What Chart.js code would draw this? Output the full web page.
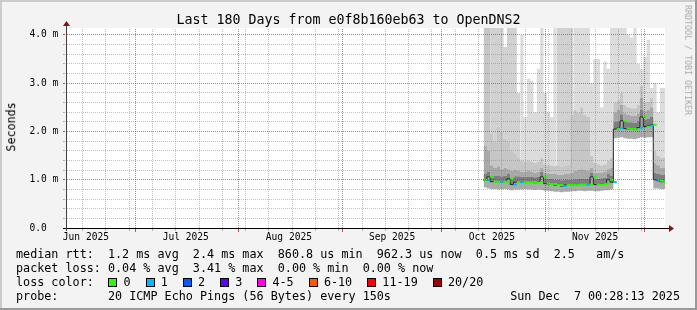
<!DOCTYPE html>
<html>
<head>
<meta charset="utf-8">
<script src="https://cdn.jsdelivr.net/npm/chart.js@4.4.1/dist/chart.umd.min.js"></script>
<style>
html,body{margin:0;padding:0;background:#f3f3f3;overflow:hidden}
#wrap{position:relative;width:697px;height:310px;background:#f3f3f3;font-family:"DejaVu Sans Mono",monospace;color:#000}
#c{position:absolute;left:0;top:0}
.t{position:absolute;white-space:pre;line-height:1}
.box{position:absolute;width:7px;height:7px;border:1px solid #000}
.fr{position:absolute}
</style>
</head>
<body>
<div id="wrap">
<canvas id="c" width="697" height="310"></canvas>
</div>
<script>
// ---------- data ----------
const startTime = '2025-06-10T00:28:13';
const endTime   = '2025-12-07T00:28:13';

const sampleDates = [
 '2025-10-13','2025-10-14','2025-10-15','2025-10-16','2025-10-17','2025-10-18','2025-10-19','2025-10-20','2025-10-21','2025-10-22',
 '2025-10-23','2025-10-24','2025-10-25','2025-10-26','2025-10-27','2025-10-28','2025-10-29','2025-10-30','2025-10-31','2025-11-01',
 '2025-11-02','2025-11-03','2025-11-04','2025-11-05','2025-11-06','2025-11-07','2025-11-08','2025-11-09','2025-11-10','2025-11-11',
 '2025-11-12','2025-11-13','2025-11-14','2025-11-15','2025-11-16','2025-11-17','2025-11-18','2025-11-19','2025-11-20','2025-11-21',
 '2025-11-22','2025-11-23','2025-11-24','2025-11-25','2025-11-26','2025-11-27','2025-11-28','2025-11-29','2025-11-30','2025-12-01',
 '2025-12-02','2025-12-03','2025-12-04','2025-12-05','2025-12-06'];

// median RTT (ms)
const median = [1.00,0.99,1.06,0.96,0.96,0.96,0.96,0.96,1.02,0.90, 0.95,0.95,0.95,0.95,0.95,0.95,0.94,0.95,1.06,0.92,
 0.91,0.91,0.89,0.89,0.87,0.89,0.89,0.89,0.89,0.90, 0.90,0.90,0.90,1.06,0.90,0.90,0.91,0.92,1.00,0.95,
 2.05,2.07,2.22,2.06,2.05,2.05,2.04,2.08,2.30,2.10, 2.12,2.14,1.00,0.98,0.96];

// lost pings out of 20
const lossCount = [0,1,0,0,0,1,0,0,0,1, 0,1,0,0,0,0,0,0,0,0, 0,0,0,0,1,0,0,0,0,0,
 0,1,0,0,0,0,0,0,0,1, 0,1,0,0,0,0,0,1,0,0, 1,0,1,0,0];

// smoke boundaries (ms)
const smokeLow = [0.84,0.84,0.82,0.81,0.81,0.80,0.80,0.81,0.80,0.78, 0.80,0.80,0.80,0.81,0.80,0.80,0.79,0.80,0.79,0.77,
 0.77,0.76,0.75,0.75,0.74,0.75,0.75,0.76,0.76,0.77, 0.77,0.76,0.77,0.77,0.76,0.76,0.77,0.78,0.78,0.80,
 1.86,1.87,1.88,1.86,1.85,1.85,1.84,1.86,1.88,1.87, 1.88,1.88,0.82,0.82,0.81];
const smokeDarkTop = [1.14,1.12,1.16,1.08,1.08,1.08,1.07,1.08,1.12,1.04, 1.07,1.07,1.06,1.06,1.06,1.06,1.05,1.06,1.16,1.03,
 1.02,1.02,1.00,1.00,0.99,1.00,1.00,1.01,1.01,1.02, 1.02,1.02,1.02,1.15,1.02,1.02,1.03,1.04,1.12,1.08,
 2.20,2.22,2.36,2.20,2.19,2.19,2.18,2.22,2.45,2.25, 2.27,2.30,1.14,1.12,1.10];
const smokeMidTop = [2.80,1.70,1.60,1.30,1.25,1.28,1.22,1.25,1.22,1.18, 1.20,1.18,1.17,1.16,1.18,1.17,1.15,1.16,1.25,1.14,
 1.13,1.12,1.12,1.11,1.10,1.12,1.12,1.15,1.18,1.20, 1.22,1.20,1.18,1.25,1.15,1.14,1.15,1.17,1.22,1.25,
 2.40,2.45,2.55,2.38,2.35,2.33,2.32,2.38,2.70,2.42, 2.45,2.50,1.35,1.30,1.25];
const smokeHighTop = [4.15,4.15,4.15,1.95,1.80,2.10,2.00,1.85,1.80,1.60, 1.55,1.45,1.40,1.38,1.40,1.38,1.35,1.38,1.45,1.32,
 1.30,1.30,1.28,1.30,1.28,1.30,1.32,2.35,2.45,2.40, 2.50,2.35,2.30,1.50,1.35,1.32,1.30,1.32,1.40,1.45,
 2.60,2.65,2.80,2.55,2.50,2.48,2.48,2.55,2.95,2.60, 2.62,2.70,1.60,1.50,1.45];
const smokeMax = [4.15,4.15,4.15,4.15,4.15,4.15,4.15,3.75,4.15,4.15, 4.15,2.80,4.00,2.30,3.10,3.05,2.40,3.30,4.15,2.80,
 2.40,2.30,4.15,4.15,4.15,4.15,4.15,4.15,4.15,4.15, 4.15,4.15,4.15,3.00,3.50,3.50,2.50,3.45,3.30,4.15,
 4.15,4.15,4.15,4.15,4.00,3.95,4.15,3.40,3.30,3.55, 3.90,2.90,3.00,2.40,2.90];

// axes
const weekLines = ['2025-06-15','2025-06-22','2025-06-29','2025-07-06','2025-07-13','2025-07-20','2025-07-27',
 '2025-08-03','2025-08-10','2025-08-17','2025-08-24','2025-08-31','2025-09-07','2025-09-14','2025-09-21','2025-09-28',
 '2025-10-05','2025-10-12','2025-10-19','2025-10-26','2025-11-02','2025-11-09','2025-11-16','2025-11-23','2025-11-30'];
const monthLines = ['2025-07-01','2025-08-01','2025-09-01','2025-10-01','2025-11-01','2025-12-01'];
const monthLabelDates = ['2025-06-16','2025-07-16','2025-08-16','2025-09-16','2025-10-16','2025-11-16'];
const monthLabels = ['Jun 2025','Jul 2025','Aug 2025','Sep 2025','Oct 2025','Nov 2025'];
const yTickValues = [0,0.2,0.4,0.6,0.8,1.0,1.2,1.4,1.6,1.8,2.0,2.2,2.4,2.6,2.8,3.0,3.2,3.4,3.6,3.8,4.0];
const yMajorValues = [0,1,2,3,4];
const yMajorLabels = ['0.0  ','1.0 m','2.0 m','3.0 m','4.0 m'];

// legend
const lossLabels = ['0','1','2','3','4-5','6-10','11-19','20/20'];
const lossColors = ['#26ff00','#00b8ff','#0059ff','#5e00ff','#ff00ea','#ff5500','#ff0000','#a10000'];
const titleText = 'Last 180 Days from e0f8b160eb63 to OpenDNS2';
const rttLine = 'median rtt:  1.2 ms avg  2.4 ms max  860.8 us min  962.3 us now  0.5 ms sd  2.5   am/s';
const lossLine = 'packet loss: 0.04 % avg  3.41 % max  0.00 % min  0.00 % now';
const probeLine = 'probe:       20 ICMP Echo Pings (56 Bytes) every 150s';
const stampText = 'Sun Dec  7 00:28:13 2025';

// ---------- helpers ----------
const DAY = 86400000;
const t0 = Date.parse(startTime + 'Z');
const toX = s => (Date.parse(s + 'Z') - t0) / DAY;
const xs = sampleDates.map(d => toX(d + 'T12:00:00'));
const xEnd = toX(endTime);
function pts(vals) {
  const a = vals.map((v, i) => ({x: xs[i], y: v}));
  a.push({x: xEnd, y: vals[vals.length - 1]});
  return a;
}
function lossColor(n) {
  if (n <= 0) return lossColors[0];
  if (n === 1) return lossColors[1];
  if (n === 2) return lossColors[2];
  if (n === 3) return lossColors[3];
  if (n <= 5) return lossColors[4];
  if (n <= 10) return lossColors[5];
  if (n <= 19) return lossColors[6];
  return lossColors[7];
}
const darkerSmokeSpans = [[0, 10], [22, 26]];
const inDark = i => darkerSmokeSpans.some(([a, b]) => i >= a && i <= b);

function band(vals, color, extra) {
  return Object.assign({
    data: pts(vals), stepped: 'after', pointRadius: 0, borderWidth: 0,
    borderColor: 'rgba(0,0,0,0)', backgroundColor: color, fill: '-1', order: 10
  }, extra || {});
}

// ---------- html text ----------
const wrap = document.getElementById('wrap');
function addText(txt, css) {
  const d = document.createElement('div');
  d.className = 't';
  d.textContent = txt;
  Object.assign(d.style, css);
  wrap.appendChild(d);
  return d;
}
addText(titleText, {left: '0px', width: '697px', textAlign: 'center', top: '12.6px', fontSize: '13.3px'});
addText('Seconds', {left: '-28.5px', width: '80px', textAlign: 'center', top: '121.2px', fontSize: '11.7px', transform: 'rotate(-90deg)'});
addText('RRDTOOL / TOBI OETIKER', {left: '627.5px', width: '120px', textAlign: 'center', top: '55.9px', fontSize: '8.3px', color: '#a8a8a8', transform: 'rotate(90deg)'});
const LF = 11.75, CW = 7.07;
addText(rttLine, {left: '16px', top: '249.2px', fontSize: LF + 'px'});
addText(lossLine, {left: '16px', top: '262.9px', fontSize: LF + 'px'});
addText('loss color:', {left: '16px', top: '277.1px', fontSize: LF + 'px'});
let bx = 108.4;
lossLabels.forEach((lab, i) => {
  const b = document.createElement('div');
  b.className = 'box';
  b.style.left = bx + 'px'; b.style.top = '278px'; b.style.background = lossColors[i];
  wrap.appendChild(b);
  addText(lab, {left: (bx + 15) + 'px', top: '277.1px', fontSize: LF + 'px'});
  bx += 15 + lab.length * CW + 15.2;
});
addText(probeLine, {left: '16px', top: '290.7px', fontSize: LF + 'px'});
addText(stampText, {right: '17px', top: '290.7px', fontSize: LF + 'px', textAlign: 'right'});
[['0px','0px','697px','2px','#cbcbcb'],['0px','0px','2px','310px','#cbcbcb'],
 ['695px','0px','2px','310px','#999999'],['0px','308px','697px','2px','#999999']].forEach(f => {
  const d = document.createElement('div'); d.className = 'fr';
  Object.assign(d.style, {left: f[0], top: f[1], width: f[2], height: f[3], background: f[4]});
  wrap.appendChild(d);
});

// ---------- chart ----------
const MINOR = 'rgba(130,130,130,0.5)';
const MAJOR = 'rgba(255,0,0,0.6)';
const TICK_MAJOR = '#e04040';
const TICK_MINOR = '#b0b0b0';
const FONT = 'DejaVu Sans Mono';
const isMajorY = v => Math.abs(v - Math.round(v)) < 1e-6;

const bgPlugin = {
  id: 'canvasBg',
  beforeDraw(chart) {
    const {ctx, chartArea: a} = chart;
    ctx.save(); ctx.fillStyle = '#ffffff';
    ctx.fillRect(a.left, a.top, a.right - a.left, a.bottom - a.top);
    ctx.restore();
  }
};
// rrdtool-style dotted grid, positioned through the chart's scales
const gridPlugin = {
  id: 'rrdGrid',
  afterDatasetsDraw(chart) {
    const {ctx, chartArea: a, scales: {x, y}} = chart;
    const L = Math.round(a.left), R = Math.round(a.right), T = Math.round(a.top), B = Math.round(a.bottom);
    ctx.save();
    const hdot = (py, c) => { ctx.fillStyle = c; for (let px = L + 1; px < R; px += 2) ctx.fillRect(px, py, 1, 1); };
    const vdot = (px, c) => { ctx.fillStyle = c; for (let py = B - 1; py >= T; py -= 2) ctx.fillRect(px, py, 1, 1); };
    yTickValues.forEach(v => {
      const py = Math.floor(y.getPixelForValue(v));
      if (v > 0) hdot(py, isMajorY(v) ? MAJOR : MINOR);
      ctx.fillStyle = isMajorY(v) ? TICK_MAJOR : TICK_MINOR;
      ctx.fillRect(L - 3, py, 2, 1);
    });
    weekLines.forEach(d => {
      const px = Math.floor(x.getPixelForValue(toX(d + 'T00:00:00')));
      vdot(px, MINOR);
      ctx.fillStyle = TICK_MINOR; ctx.fillRect(px, B + 1, 1, 2);
    });
    monthLines.forEach(d => {
      const px = Math.floor(x.getPixelForValue(toX(d + 'T00:00:00')));
      vdot(px, MAJOR);
      ctx.fillStyle = TICK_MAJOR; ctx.fillRect(px, B + 1, 1, 3);
    });
    ctx.restore();
  },
  afterDraw(chart) {
    const {ctx, chartArea: a} = chart;
    const L = Math.round(a.left), R = Math.round(a.right), T = Math.round(a.top), B = Math.round(a.bottom);
    ctx.save();
    ctx.fillStyle = '#000000';
    ctx.fillRect(L - 3, B, R - L + 9, 1);
    ctx.fillStyle = '#404040';
    ctx.fillRect(L, T - 3, 1, B - T + 6);
    ctx.fillStyle = '#7f1414';
    ctx.beginPath(); ctx.moveTo(L + 0.5, T - 7); ctx.lineTo(L - 3, T - 2); ctx.lineTo(L + 4, T - 2); ctx.closePath(); ctx.fill();
    ctx.beginPath(); ctx.moveTo(R + 9, B + 0.5); ctx.lineTo(R + 4, B - 3); ctx.lineTo(R + 4, B + 4); ctx.closePath(); ctx.fill();
    ctx.restore();
  }
};

new Chart(document.getElementById('c'), {
  type: 'line',
  data: {
    datasets: [
      band(smokeLow, 'rgba(0,0,0,0)', {fill: false}),
      band(median, '#ababab'),
      band(smokeDarkTop, '#7e7e7e'),
      band(smokeMidTop, '#a8a8a8'),
      band(smokeHighTop, '#c6c6c6'),
      band(smokeMax, '#dcdcdc', {segment: {backgroundColor: c => inDark(c.p0DataIndex) ? '#d1d1d1' : '#dcdcdc'}}),
      {data: pts(median), stepped: 'after', pointRadius: 0, borderWidth: 1, borderColor: '#202020', fill: false, order: 1},
      {data: median.map((v, i) => ({x: xs[i] + 0.5, y: v})), showLine: false, pointStyle: 'line',
       pointRadius: 1.7, pointBorderWidth: 2, pointHoverRadius: 1.7,
       pointBorderColor: c => lossColor(lossCount[c.dataIndex]), pointBackgroundColor: 'rgba(0,0,0,0)', fill: false, order: 0}
    ]
  },
  options: {
    responsive: false, animation: false, devicePixelRatio: 1, events: [],
    layout: {padding: {left: 0, top: 28, right: 32, bottom: 0}},
    plugins: {legend: {display: false}, tooltip: {enabled: false}, title: {display: false}},
    scales: {
      x: {
        type: 'linear', min: 0, max: xEnd, offset: false,
        afterFit: s => { s.height = 82; },
        afterBuildTicks: s => {
          s.ticks = monthLabelDates.map((d, i) => ({value: toX(d + 'T00:00:00'), text: monthLabels[i]}));
        },
        ticks: {
          autoSkip: false, maxRotation: 0, minRotation: 0, padding: 4.2, color: '#000',
          font: {family: FONT, size: 9.6},
          callback: (v, i, ticks) => ticks[i].text
        },
        grid: {display: false, drawTicks: false, tickLength: 0},
        border: {display: false}
      },
      y: {
        type: 'linear', min: 0, max: 4.145,
        afterFit: s => { s.width = 66; },
        afterBuildTicks: s => { s.ticks = yTickValues.map(v => ({value: v})); },
        ticks: {
          autoSkip: false, padding: 7.7, color: '#000', font: {family: FONT, size: 9.6},
          callback: v => { const k = yMajorValues.findIndex(m => Math.abs(m - v) < 1e-6); return k >= 0 ? yMajorLabels[k] : ''; }
        },
        grid: {display: false, drawTicks: false, tickLength: 0},
        border: {display: false}
      }
    }
  },
  plugins: [bgPlugin, gridPlugin]
});
</script>
</body>
</html>
